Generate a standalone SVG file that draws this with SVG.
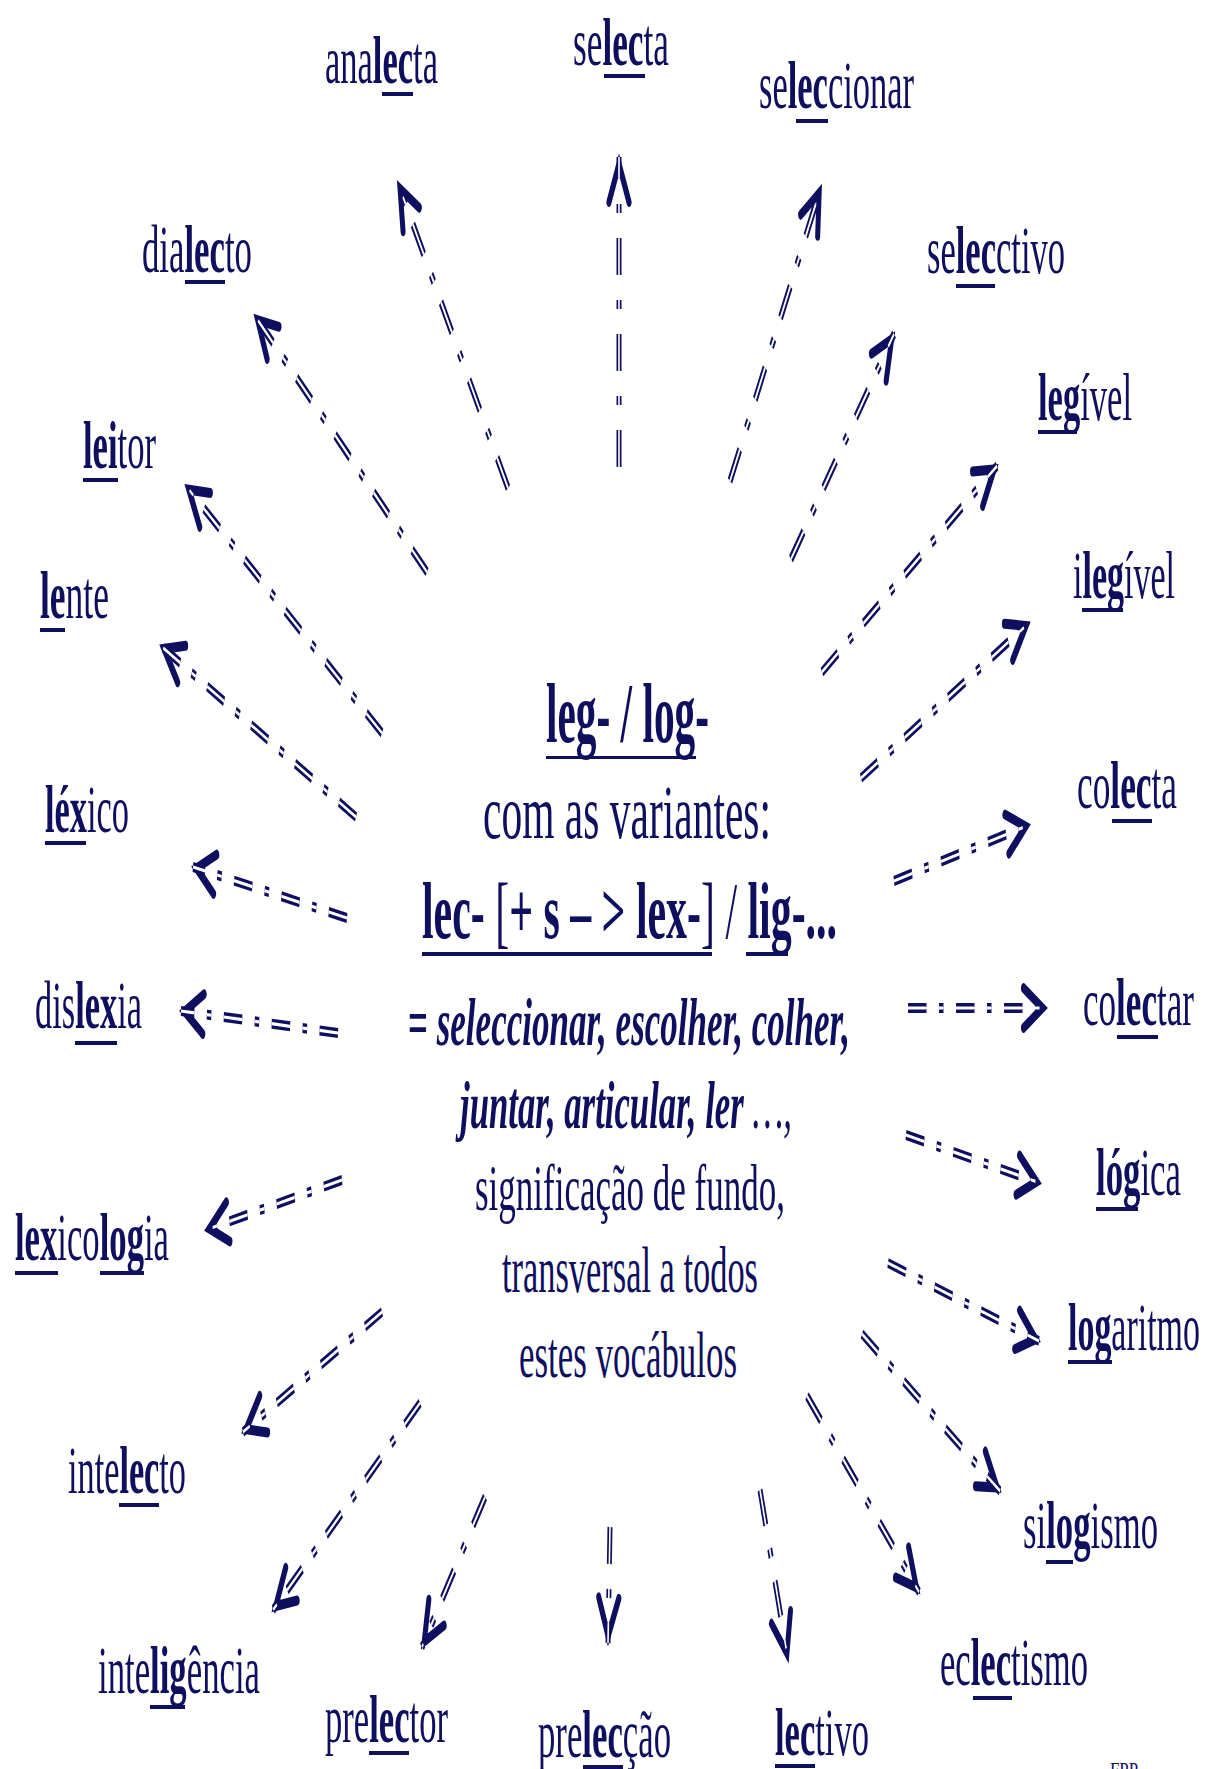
<svg xmlns="http://www.w3.org/2000/svg" xmlns:xlink="http://www.w3.org/1999/xlink" width="1205" height="1769" viewBox="0 0 1205 1769">
<style>
text { font-family: "Liberation Serif", "Times New Roman", serif; fill: #0f0f5f; }
.w { font-size: 68px; }
.b { font-weight: bold; }
.bi { font-weight: bold; font-style: italic; }
.ul { fill: #0f0f5f; }
.outer { fill: none; stroke: #0f0f5f; stroke-width: 10; stroke-dasharray: 37 25 9 25; marker-end: url(#arr); }
.inner { fill: none; stroke: #ffffff; stroke-width: 3.2; stroke-dasharray: 37 25 9 25; marker-end: none; }
</style>
<defs>
<marker id="arr" viewBox="-50 -30 60 60" refX="7" refY="0" markerWidth="60" markerHeight="60" markerUnits="userSpaceOnUse" orient="auto" overflow="visible">
<path d="M-38,-20 L0,0 L-38,20" fill="none" stroke="#0f0f5f" stroke-width="10" stroke-linecap="round" stroke-linejoin="miter"/>
</marker>
<line id="c1" x1="1016" y1="488" x2="796" y2="183"/>
<line id="c2" x1="1238" y1="467" x2="1238" y2="157"/>
<line id="c3" x1="1460" y1="481" x2="1642" y2="187"/>
<line id="c4" x1="1582" y1="559" x2="1788" y2="334"/>
<line id="c5" x1="1644" y1="672" x2="1994" y2="466"/>
<line id="c6" x1="1722" y1="778" x2="2058" y2="623"/>
<line id="c7" x1="1788" y1="881" x2="2058" y2="825"/>
<line id="c8" x1="1816" y1="1008" x2="2092" y2="1008"/>
<line id="c9" x1="1812" y1="1135" x2="2080" y2="1183"/>
<line id="c10" x1="1776" y1="1263" x2="2078" y2="1341"/>
<line id="c11" x1="1724" y1="1334" x2="2000" y2="1491"/>
<line id="c12" x1="1614" y1="1396" x2="1838" y2="1592"/>
<line id="c13" x1="1520" y1="1490" x2="1576" y2="1660"/>
<line id="c14" x1="1220" y1="1527" x2="1216" y2="1643"/>
<line id="c15" x1="970" y1="1497" x2="844" y2="1647"/>
<line id="c16" x1="840" y1="1403" x2="546" y2="1610"/>
<line id="c17" x1="764" y1="1312" x2="486" y2="1432"/>
<line id="c18" x1="684" y1="1180" x2="412" y2="1230"/>
<line id="c19" x1="676" y1="1033" x2="362" y2="1011"/>
<line id="c20" x1="694" y1="918" x2="386" y2="867"/>
<line id="c21" x1="712" y1="817" x2="322" y2="646"/>
<line id="c22" x1="764" y1="733" x2="372" y2="486"/>
<line id="c23" x1="854" y1="572" x2="510" y2="316"/>
</defs>
<rect width="1205" height="1769" fill="#ffffff"/>
<g id="connectors" transform="scale(0.5 1)">
<g class="outer">
<use href="#c1"/><use href="#c2"/><use href="#c3"/><use href="#c4"/><use href="#c5"/><use href="#c6"/><use href="#c7"/><use href="#c8"/><use href="#c9"/><use href="#c10"/><use href="#c11"/><use href="#c12"/><use href="#c13"/><use href="#c14"/><use href="#c15"/><use href="#c16"/><use href="#c17"/><use href="#c18"/><use href="#c19"/><use href="#c20"/><use href="#c21"/><use href="#c22"/><use href="#c23"/>
</g>
<g class="inner">
<use href="#c1"/><use href="#c2"/><use href="#c3"/><use href="#c4"/><use href="#c5"/><use href="#c6"/><use href="#c7"/><use href="#c8"/><use href="#c9"/><use href="#c10"/><use href="#c11"/><use href="#c12"/><use href="#c13"/><use href="#c14"/><use href="#c15"/><use href="#c16"/><use href="#c17"/><use href="#c18"/><use href="#c19"/><use href="#c20"/><use href="#c21"/><use href="#c22"/><use href="#c23"/>
</g>
</g>
<g id="nodes" transform="scale(0.5 1)">
<g id="center">
<text x="1092" y="742" font-size="84" font-weight="bold" textLength="326" lengthAdjust="spacingAndGlyphs">leg- / log-</text>
<rect class="ul" x="1092" y="756" width="300" height="3"/>
<text x="966" y="838" font-size="76" textLength="576" lengthAdjust="spacingAndGlyphs">com as variantes:</text>
<text x="844" y="938" font-size="80" textLength="830" lengthAdjust="spacingAndGlyphs"><tspan class="b">lec-</tspan> [<tspan class="b">+ s – &gt; lex-</tspan>] / <tspan class="b">lig-...</tspan></text>
<rect class="ul" x="844" y="952" width="580" height="4"/>
<rect class="ul" x="1492" y="952" width="84" height="4"/>
<text x="816" y="1045" font-size="68" textLength="884" lengthAdjust="spacingAndGlyphs"><tspan class="b">= </tspan><tspan class="bi">seleccionar, escolher, colher,</tspan></text>
<text x="920" y="1128" font-size="68" textLength="664" lengthAdjust="spacingAndGlyphs"><tspan class="bi">juntar, articular, ler</tspan><tspan font-style="italic"> …,</tspan></text>
<text x="950" y="1210" font-size="66" textLength="620" lengthAdjust="spacingAndGlyphs">significação de fundo,</text>
<text x="1004" y="1292" font-size="66" textLength="512" lengthAdjust="spacingAndGlyphs">transversal a todos</text>
<text x="1038" y="1377" font-size="66" textLength="436" lengthAdjust="spacingAndGlyphs">estes vocábulos</text>
</g>
<g id="n-analecta"><text class="w" x="650" y="83" textLength="226" lengthAdjust="spacingAndGlyphs">ana<tspan class="b">lec</tspan>ta</text><rect class="ul" x="764" y="92" width="62" height="4"/></g>
<g id="n-selecta"><text class="w" x="1146" y="65" textLength="192" lengthAdjust="spacingAndGlyphs">se<tspan class="b">lec</tspan>ta</text><rect class="ul" x="1208" y="74" width="82" height="4"/></g>
<g id="n-seleccionar"><text class="w" x="1518" y="108" textLength="310" lengthAdjust="spacingAndGlyphs">se<tspan class="b">lec</tspan>cionar</text><rect class="ul" x="1592" y="119" width="64" height="4"/></g>
<g id="n-dialecto"><text class="w" x="284" y="272" textLength="220" lengthAdjust="spacingAndGlyphs">dia<tspan class="b">lec</tspan>to</text><rect class="ul" x="370" y="280" width="80" height="4"/></g>
<g id="n-selecctivo"><text class="w" x="1854" y="273" textLength="276" lengthAdjust="spacingAndGlyphs">se<tspan class="b">lec</tspan>ctivo</text><rect class="ul" x="1912" y="284" width="78" height="4"/></g>
<g id="n-legivel"><text class="w" x="2076" y="420" textLength="188" lengthAdjust="spacingAndGlyphs"><tspan class="b">leg</tspan>ível</text><rect class="ul" x="2076" y="430" width="78" height="4"/></g>
<g id="n-leitor"><text class="w" x="166" y="468" textLength="146" lengthAdjust="spacingAndGlyphs"><tspan class="b">lei</tspan>tor</text><rect class="ul" x="166" y="478" width="70" height="4"/></g>
<g id="n-lente"><text class="w" x="80" y="618" textLength="138" lengthAdjust="spacingAndGlyphs"><tspan class="b">le</tspan>nte</text><rect class="ul" x="80" y="628" width="50" height="4"/></g>
<g id="n-ilegivel"><text class="w" x="2146" y="598" textLength="204" lengthAdjust="spacingAndGlyphs">i<tspan class="b">leg</tspan>ível</text><rect class="ul" x="2164" y="608" width="82" height="4"/></g>
<g id="n-lexico"><text class="w" x="90" y="832" textLength="168" lengthAdjust="spacingAndGlyphs"><tspan class="b">léx</tspan>ico</text><rect class="ul" x="90" y="841" width="82" height="4"/></g>
<g id="n-colecta"><text class="w" x="2154" y="808" textLength="200" lengthAdjust="spacingAndGlyphs">co<tspan class="b">lec</tspan>ta</text><rect class="ul" x="2224" y="819" width="80" height="4"/></g>
<g id="n-dislexia"><text class="w" x="70" y="1028" textLength="214" lengthAdjust="spacingAndGlyphs">dis<tspan class="b">lex</tspan>ia</text><rect class="ul" x="150" y="1041" width="84" height="4"/></g>
<g id="n-colectar"><text class="w" x="2166" y="1025" textLength="222" lengthAdjust="spacingAndGlyphs">co<tspan class="b">lec</tspan>tar</text><rect class="ul" x="2234" y="1035" width="82" height="4"/></g>
<g id="n-logica"><text class="w" x="2192" y="1195" textLength="170" lengthAdjust="spacingAndGlyphs"><tspan class="b">lóg</tspan>ica</text><rect class="ul" x="2192" y="1207" width="84" height="4"/></g>
<g id="n-lexicologia"><text class="w" x="30" y="1260" textLength="308" lengthAdjust="spacingAndGlyphs"><tspan class="b">lex</tspan>ico<tspan class="b">log</tspan>ia</text><rect class="ul" x="30" y="1271" width="86" height="4"/><rect class="ul" x="200" y="1271" width="88" height="4"/></g>
<g id="n-logaritmo"><text class="w" x="2136" y="1350" textLength="264" lengthAdjust="spacingAndGlyphs"><tspan class="b">log</tspan>aritmo</text><rect class="ul" x="2136" y="1360" width="88" height="4"/></g>
<g id="n-intelecto"><text class="w" x="136" y="1493" textLength="236" lengthAdjust="spacingAndGlyphs">inte<tspan class="b">lec</tspan>to</text><rect class="ul" x="238" y="1503" width="80" height="4"/></g>
<g id="n-silogismo"><text class="w" x="2046" y="1548" textLength="270" lengthAdjust="spacingAndGlyphs">si<tspan class="b">log</tspan>ismo</text><rect class="ul" x="2092" y="1560" width="54" height="4"/></g>
<g id="n-inteligencia"><text class="w" x="196" y="1693" textLength="324" lengthAdjust="spacingAndGlyphs">inte<tspan class="b">lig</tspan>ência</text><rect class="ul" x="300" y="1705" width="70" height="4"/></g>
<g id="n-eclectismo"><text class="w" x="1880" y="1685" textLength="296" lengthAdjust="spacingAndGlyphs">ec<tspan class="b">lec</tspan>tismo</text><rect class="ul" x="1946" y="1696" width="78" height="4"/></g>
<g id="n-prelector"><text class="w" x="650" y="1742" textLength="246" lengthAdjust="spacingAndGlyphs">pre<tspan class="b">lec</tspan>tor</text><rect class="ul" x="738" y="1751" width="80" height="4"/></g>
<g id="n-prelecao"><text class="w" x="1076" y="1757" textLength="266" lengthAdjust="spacingAndGlyphs">pre<tspan class="b">lec</tspan>ção</text><rect class="ul" x="1166" y="1765" width="80" height="4"/></g>
<g id="n-lectivo"><text class="w" x="1550" y="1755" textLength="188" lengthAdjust="spacingAndGlyphs"><tspan class="b">lec</tspan>tivo</text><rect class="ul" x="1550" y="1764" width="80" height="4"/></g>
<g id="n-fpp"><text x="2220" y="1777" font-size="20" textLength="56" lengthAdjust="spacingAndGlyphs">FPP</text></g>
</g>
</svg>
